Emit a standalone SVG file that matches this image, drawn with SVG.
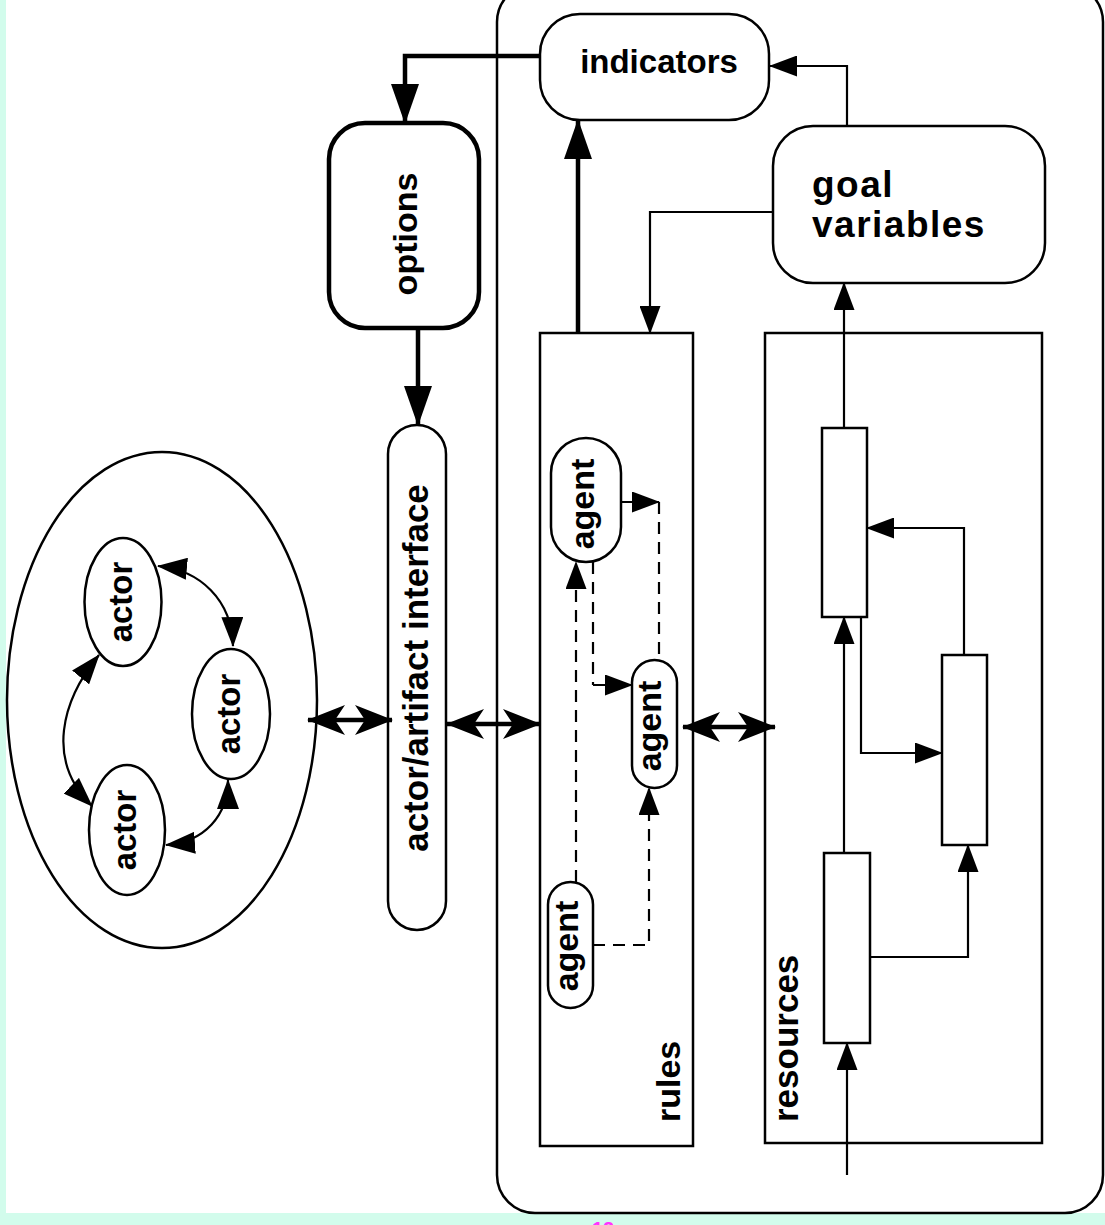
<svg xmlns="http://www.w3.org/2000/svg" width="1105" height="1225" viewBox="0 0 1105 1225">
<style>
.box{fill:#fff;stroke:#000;stroke-width:2.5}
.thick{fill:none;stroke:#000;stroke-width:4.5}
.thin{fill:none;stroke:#000;stroke-width:2.2}
.dash{fill:none;stroke:#000;stroke-width:2.2;stroke-dasharray:12 8}
.lbl{font-family:"Liberation Sans",Arial,Helvetica,sans-serif;font-weight:bold;fill:#000}
</style>
<defs>
<marker id="ah" markerUnits="userSpaceOnUse" viewBox="0 0 28 21" refX="27" refY="10.5" markerWidth="28" markerHeight="21" orient="auto"><path d="M0,0 L28,10.5 L0,21 Z" fill="#000"/></marker>
<marker id="ahb" markerUnits="userSpaceOnUse" viewBox="0 0 40 28" refX="39" refY="14" markerWidth="40" markerHeight="28" orient="auto"><path d="M0,0 L40,14 L0,28 Z" fill="#000"/></marker>
<marker id="ahd" markerUnits="userSpaceOnUse" viewBox="0 0 38 30" refX="37" refY="15" markerWidth="38" markerHeight="30" orient="auto-start-reverse"><path d="M38,15 L0,0 L10,15 L0,30 Z" fill="#000"/></marker>
<marker id="aha" markerUnits="userSpaceOnUse" viewBox="0 0 30 22" refX="29" refY="11" markerWidth="30" markerHeight="22" orient="auto-start-reverse"><path d="M0,0 L30,11 L0,22 Z" fill="#000"/></marker>
</defs>
<rect x="0" y="0" width="1105" height="1225" fill="#d2fcec"/>
<rect x="6" y="0" width="1099" height="1213" fill="#fff"/>
<text x="603" y="1236" font-family="Liberation Sans,Arial,sans-serif" font-weight="bold" font-size="20" fill="#ff33ff" text-anchor="middle">12</text>

<g id="system-frame"><rect class="box" x="497" y="-16" width="606" height="1229" rx="38"/></g>

<g id="actors-group"><ellipse class="box" cx="162" cy="700" rx="155" ry="248"/></g>
<g id="actor1"><ellipse class="box" cx="123" cy="602" rx="38.5" ry="64"/><text class="lbl" font-size="33" text-anchor="middle" transform="translate(132,602) rotate(-90)">actor</text></g>
<g id="actor2"><ellipse class="box" cx="231" cy="714" rx="39" ry="65"/><text class="lbl" font-size="33" text-anchor="middle" transform="translate(240,714) rotate(-90)">actor</text></g>
<g id="actor3"><ellipse class="box" cx="127" cy="830" rx="38" ry="65"/><text class="lbl" font-size="33" text-anchor="middle" transform="translate(136,830) rotate(-90)">actor</text></g>

<g id="options"><rect x="329" y="123" width="150" height="205" rx="36" fill="#fff" stroke="#000" stroke-width="4.5"/><text class="lbl" font-size="34" text-anchor="middle" transform="translate(417,234) rotate(-90)">options</text></g>

<g id="interface"><rect class="box" x="388" y="425" width="58" height="505" rx="29"/><text class="lbl" font-size="35" text-anchor="middle" transform="translate(428,668) rotate(-90)">actor/artifact interface</text></g>

<g id="indicators"><rect class="box" x="540" y="14" width="229" height="106" rx="40"/><text class="lbl" font-size="33" text-anchor="middle" x="659" y="73">indicators</text></g>

<g id="goal-variables"><rect class="box" x="773" y="126" width="272" height="157" rx="40"/><text class="lbl" font-size="37" letter-spacing="1.5" x="812" y="197">goal</text><text class="lbl" font-size="37" letter-spacing="1.5" x="812" y="237">variables</text></g>

<g id="rules"><rect class="box" x="540" y="333" width="153" height="813"/><text class="lbl" font-size="34" transform="translate(680,1122) rotate(-90)">rules</text></g>

<g id="resources"><rect class="box" x="765" y="333" width="277" height="810"/><text class="lbl" font-size="35" transform="translate(798,1122) rotate(-90)">resources</text></g>

<g id="agent1"><rect class="box" x="551" y="438" width="70" height="124" rx="35"/><text class="lbl" font-size="34" text-anchor="middle" transform="translate(594,504) rotate(-90)">agent</text></g>
<g id="agent2"><rect class="box" x="632" y="660" width="45" height="128" rx="22.5"/><text class="lbl" font-size="34" text-anchor="middle" transform="translate(661,726) rotate(-90)">agent</text></g>
<g id="agent3"><rect class="box" x="548" y="882" width="45" height="126" rx="22.5"/><text class="lbl" font-size="34" text-anchor="middle" transform="translate(578,946) rotate(-90)">agent</text></g>

<g id="stock-a"><rect class="box" x="822" y="428" width="45" height="189"/></g>
<g id="stock-b"><rect class="box" x="942" y="655" width="45" height="190"/></g>
<g id="stock-c"><rect class="box" x="824" y="853" width="46" height="190"/></g>

<g id="connectors">
<path class="thick" d="M540,56 L405,56 L405,123" marker-end="url(#ahb)"/>
<path class="thick" d="M418,328 L418,425" marker-end="url(#ahb)"/>
<path class="thick" d="M578,333 L578,120" marker-end="url(#ahb)"/>
<path class="thin" d="M847,126 L847,66 L770,66" marker-end="url(#ah)"/>
<path class="thin" d="M773,212 L650,212 L650,333" marker-end="url(#ah)"/>

<path class="thick" d="M308,720 L392,720" marker-start="url(#ahd)" marker-end="url(#ahd)"/>
<path class="thick" d="M447,724 L540,724" marker-start="url(#ahd)" marker-end="url(#ahd)"/>
<path class="thick" d="M683,727 L775,727" marker-start="url(#ahd)" marker-end="url(#ahd)"/>

<path class="thin" d="M158,566 C200,570 232,600 233,646" marker-start="url(#aha)" marker-end="url(#aha)"/>
<path class="thin" d="M99,655 C62,700 45,760 92,806" marker-start="url(#aha)" marker-end="url(#aha)"/>
<path class="thin" d="M166,845 C205,842 228,815 228,780" marker-start="url(#aha)" marker-end="url(#aha)"/>

<path class="thin" d="M622,502 L659,502" marker-end="url(#ah)"/>
<path class="dash" d="M659,502 L659,660"/>
<path class="dash" d="M593,562 L593,685"/>
<path class="thin" d="M593,685 L632,685" marker-end="url(#ah)"/>
<path class="dash" d="M576,882 L576,562" marker-end="url(#ah)"/>
<path class="dash" d="M593,945 L649,945 L649,788" marker-end="url(#ah)"/>

<path class="thin" d="M844,428 L844,283" marker-end="url(#ah)"/>
<path class="thin" d="M844,853 L844,617" marker-end="url(#ah)"/>
<path class="thin" d="M847,1175 L847,1043" marker-end="url(#ah)"/>
<path class="thin" d="M870,957 L968,957 L968,845" marker-end="url(#ah)"/>
<path class="thin" d="M964,655 L964,528 L867,528" marker-end="url(#ah)"/>
<path class="thin" d="M861,617 L861,753 L942,753" marker-end="url(#ah)"/>
</g>
</svg>
